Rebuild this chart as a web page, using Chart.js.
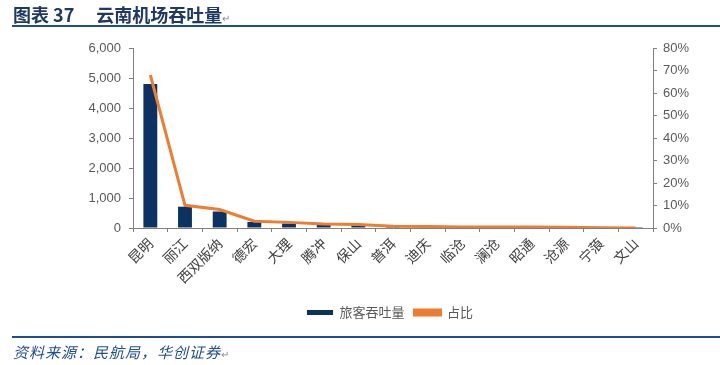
<!DOCTYPE html>
<html>
<head>
<meta charset="utf-8">
<script src="https://cdn.jsdelivr.net/npm/chart.js@4/dist/chart.umd.min.js"></script>
<style>
  html, body { margin: 0; padding: 0; background: #fff; }
  #wrap { position: relative; width: 720px; height: 365px; overflow: hidden; }
  #title { position: absolute; left: 13px; top: 1px; font-family: "Noto Sans CJK SC", serif; font-weight: bold; font-size: 18px; color: #1f3864; white-space: pre; }
  #title .gap { display: inline-block; width: 22px; }
  #title .mark, #source .mark { font-size: 10px; color: #888; font-weight: normal; font-style: normal; letter-spacing: 0; }
  #topline { position: absolute; left: 12px; right: 0; top: 25px; height: 2px; background: #1f4e8c; }
  #botline { position: absolute; left: 12px; right: 0; top: 336px; height: 2px; background: #1f4e8c; }
  #source { position: absolute; left: 13px; top: 341px; font-family: "Noto Sans CJK SC", sans-serif; font-style: italic; font-size: 15px; letter-spacing: 1px; color: #1f4e8c; }
  #chartBox { position: absolute; left: 0; top: 0; width: 720px; height: 365px; }
</style>
</head>
<body>
<div id="wrap">
  <div id="chartBox"><canvas id="airportChart" width="720" height="365"></canvas></div>
  <div id="title">图表 37<span class="gap"></span>云南机场吞吐量<span class="mark">↵</span></div>
  <div id="topline"></div>
  <div id="botline"></div>
  <div id="source">资料来源：民航局，华创证券<span class="mark">↵</span></div>
</div>
<script>
const airports = ['昆明', '丽江', '西双版纳', '德宏', '大理', '腾冲', '保山', '普洱', '迪庆', '临沧', '澜沧', '昭通', '沧源', '宁蒗', '文山'];
const passengers = [4800, 710, 550, 200, 150, 110, 90, 45, 40, 30, 20, 20, 10, 5, 3];
const sharePct = [68, 10.1, 8.2, 3.0, 2.5, 1.8, 1.6, 0.8, 0.7, 0.5, 0.4, 0.4, 0.3, 0.1, 0.05];
const leftTicks = [0, 1000, 2000, 3000, 4000, 5000, 6000];
const rightTicks = [0, 10, 20, 30, 40, 50, 60, 70, 80];

const axisGray = '#808080';
const labelGray = '#595959';

const ctx = document.getElementById('airportChart').getContext('2d');

new Chart(ctx, {
    type: 'bar',
    data: {
        labels: airports,
        datasets: [
            {
                label: '旅客吞吐量',
                data: passengers,
                backgroundColor: '#0b3263',
                borderWidth: 0,
                barPercentage: 0.4,
                categoryPercentage: 1,
                yAxisID: 'y',
                order: 2
            },
            {
                type: 'line',
                label: '占比',
                data: sharePct,
                borderColor: '#ed7d31',
                backgroundColor: '#ed7d31',
                borderWidth: 3,
                pointRadius: 0,
                tension: 0,
                yAxisID: 'y1',
                order: 1
            }
        ]
    },
    options: {
        responsive: false,
        animation: false,
        maintainAspectRatio: false,
        // left padding pushes the centred legend to the right like in the original
        layout: { padding: { top: 48, bottom: 36, left: 60, right: 0 } },
        plugins: {
            tooltip: { enabled: false },
            legend: {
                position: 'bottom',
                labels: {
                    boxWidth: 26,
                    boxHeight: 5,
                    color: labelGray,
                    font: { family: '"Noto Sans CJK SC", sans-serif', size: 13 },
                    sort: (a, b) => a.datasetIndex - b.datasetIndex
                }
            }
        },
        scales: {
            x: {
                offset: true,
                grid: { display: true, offset: true, drawOnChartArea: false, tickLength: 4, color: axisGray },
                border: { color: axisGray },
                ticks: {
                    autoSkip: false,
                    minRotation: 45,
                    maxRotation: 45,
                    color: '#404040',
                    font: { family: '"Noto Sans CJK SC", sans-serif', size: 14 }
                },
                afterFit: function (scale) { scale.height = 68; }
            },
            y: {
                position: 'left',
                min: 0,
                max: 6000,
                afterBuildTicks: function (scale) { scale.ticks = leftTicks.map(v => ({ value: v })); },
                grid: { drawOnChartArea: false, tickLength: 4, color: axisGray },
                border: { color: axisGray },
                ticks: {
                    color: labelGray,
                    padding: 8,
                    font: { family: 'Arial, "Liberation Sans", sans-serif', size: 13 },
                    callback: v => v.toLocaleString('en-US')
                },
                afterFit: function (scale) { scale.width = 73; }
            },
            y1: {
                position: 'right',
                min: 0,
                max: 80,
                afterBuildTicks: function (scale) { scale.ticks = rightTicks.map(v => ({ value: v })); },
                grid: { drawOnChartArea: false, tickLength: 4, color: axisGray },
                border: { color: axisGray },
                ticks: {
                    color: labelGray,
                    padding: 6,
                    font: { family: 'Arial, "Liberation Sans", sans-serif', size: 13 },
                    callback: v => v + '%'
                },
                afterFit: function (scale) { scale.width = 67; }
            }
        }
    }
});
</script>
</body>
</html>
